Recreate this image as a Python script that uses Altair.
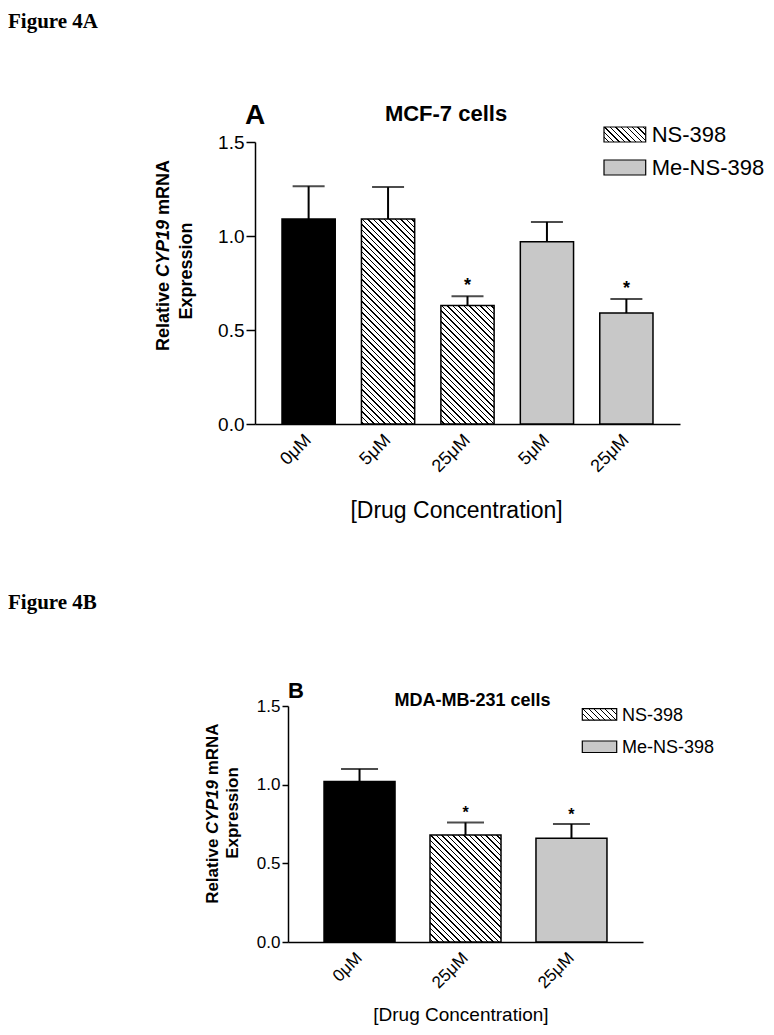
import json
import math
import altair as alt
import pandas as pd

# ---------------- data ----------------
# Panel A (MCF-7 cells)
a_cats = ["c0", "c1", "c2", "c3", "c4"]
a_labels = ["0μM", "5μM", "25μM", "5μM", "25μM"]
a_groups = ["Control", "NS-398", "NS-398", "Me-NS-398", "Me-NS-398"]
a_means = [1.09, 1.09, 0.63, 0.97, 0.59]
a_sems = [0.175, 0.17, 0.05, 0.105, 0.075]
a_sig = [False, False, True, False, True]

# Panel B (MDA-MB-231 cells)
b_cats = ["d0", "d1", "d2"]
b_labels = ["0μM", "25μM", "25μM"]
b_groups = ["Control", "NS-398", "Me-NS-398"]
b_means = [1.02, 0.68, 0.66]
b_sems = [0.08, 0.08, 0.09]
b_sig = [False, True, True]

y_ticks = [0.0, 0.5, 1.0, 1.5]
legend_names = ["NS-398", "Me-NS-398"]

# ---------------- style / layout ----------------
SANS = "Liberation Sans"
SERIF = "Liberation Serif"
GRAY = "#c8c8c8"
Y_MAX = 1.5
PAD_IN, PAD_OUT = 0.33, 0.34


def hatch(w, h, period=5.5, lw=1.4, color="black", bg="white"):
    """Diagonal '\\' hatching as a hard-stop linear gradient for a w x h box."""
    K = max(1.0, (w + h) * w / (w * w + h * h))

    def t(D):
        return min(1.0, max(0.0, (D + h) * w / (K * (w * w + h * h))))

    stops = [alt.GradientStop(offset=0, color=bg)]
    k = math.floor(-h / period) - 1
    while k * period < w:
        a = max(k * period, -h)
        b = min(k * period + lw, w)
        if b > a:
            ta, tb = round(t(a), 5), round(t(b), 5)
            stops += [alt.GradientStop(offset=ta, color=bg),
                      alt.GradientStop(offset=ta, color=color),
                      alt.GradientStop(offset=tb, color=color),
                      alt.GradientStop(offset=tb, color=bg)]
        k += 1
    stops.append(alt.GradientStop(offset=1, color=bg))
    return alt.LinearGradient(gradient="linear", stops=stops,
                              x1=0, y1=1, x2=K, y2=1 - K * h / w)


def txt(text, x, y, size, weight="normal", style="normal", font=SANS,
        align="left", baseline="alphabetic", angle=0):
    return alt.Chart(pd.DataFrame({"t": [text]})).mark_text(
        fontSize=size, fontWeight=weight, fontStyle=style, font=font,
        align=align, baseline=baseline, angle=angle, color="black"
    ).encode(text="t:N", x=alt.value(x), y=alt.value(y))


def swatch(x0, x1, y0, y1, fill):
    return alt.Chart(pd.DataFrame({"k": [0]})).mark_rect(
        fill=fill, stroke="black", strokeWidth=1.2
    ).encode(x=alt.value(x0), x2=alt.value(x1), y=alt.value(y0), y2=alt.value(y1))


def ytitle(yc, x1, x2, f, y2c):
    """Two-line rotated y title with italic CYP19."""
    off = (1.584 + 0.278) * f
    return [
        txt("Relative", x1, yc + off, f, weight="bold", align="right", baseline="middle", angle=270),
        txt("CYP19", x1, yc, f, weight="bold", style="italic", align="center", baseline="middle", angle=270),
        txt("mRNA", x1, yc - off, f, weight="bold", align="left", baseline="middle", angle=270),
        txt("Expression", x2, y2c, f, weight="bold", align="center", baseline="middle", angle=270),
    ]


def panel(cats, labels, groups, means, sems, sig, W, H, p):
    df = pd.DataFrame({"cat": cats, "group": groups, "mean": means, "sem": sems, "sig": sig})
    df["upper"] = df["mean"] + df["sem"]
    label_expr = (json.dumps(labels, ensure_ascii=False)
                  + "[indexof(" + json.dumps(cats) + ", datum.value)]")
    x = alt.X("cat:N", sort=cats,
              scale=alt.Scale(domain=cats, paddingInner=PAD_IN, paddingOuter=PAD_OUT),
              axis=alt.Axis(title="[Drug Concentration]", labelExpr=label_expr,
                            labelAngle=-45, labelAlign="right", labelBaseline="middle",
                            labelPadding=p["xlp"], labelFontSize=p["xlfs"], ticks=False,
                            domainWidth=1.5, titleFontSize=p["xtfs"], titleX=p["xtx"],
                            titleY=p["xty"], titleBaseline="alphabetic", titleAlign="center"))
    yscale = alt.Scale(domain=[0, Y_MAX])
    yaxis = alt.Axis(title=None, values=y_ticks, format=".1f", labelFontSize=p["ylfs"],
                     tickSize=p["yts"], labelPadding=2, domainWidth=1.5, tickWidth=1.5)
    base = alt.Chart(df)
    step = W / (len(cats) - PAD_IN + 2 * PAD_OUT)
    bw = step * (1 - PAD_IN)

    layers = []
    solid = base.transform_filter(alt.datum.group != "NS-398").mark_bar(
        stroke="black", strokeWidth=1.5).encode(
        x=x, y=alt.Y("mean:Q", scale=yscale, axis=yaxis),
        fill=alt.Fill("group:N", scale=alt.Scale(domain=["Control", "Me-NS-398"],
                                                 range=["black", GRAY]), legend=None))
    layers.append(solid)
    for c, g, m in zip(cats, groups, means):
        if g == "NS-398":
            layers.append(base.transform_filter(alt.datum.cat == c).mark_bar(
                fill=hatch(bw, m * H / Y_MAX), stroke="black", strokeWidth=1.5).encode(
                x=x, y=alt.Y("mean:Q", scale=yscale, axis=yaxis)))
    layers.append(base.mark_rule(color="black", strokeWidth=2).encode(
        x=x, y=alt.Y("mean:Q", scale=yscale, axis=yaxis), y2="upper:Q"))
    layers.append(base.mark_tick(color="black", thickness=2, size=p["cap"],
                                 orient="horizontal").encode(
        x=x, y=alt.Y("upper:Q", scale=yscale, axis=yaxis)))
    layers.append(base.transform_filter(alt.datum.sig).mark_text(
        text="*", fontSize=p["astfs"], fontWeight="bold", font=SANS, dy=p["astdy"],
        baseline="alphabetic", color="black").encode(
        x=x, y=alt.Y("upper:Q", scale=yscale, axis=yaxis)))

    # titles, legend, y title
    layers.append(txt(p["letter"], p["lx"], p["ly"], p["lfs"], weight="bold"))
    layers.append(txt(p["title"], p["tx"], p["ty"], p["tfs"], weight="bold", align="center"))
    sx0, sx1, r1y, r2y, sh = p["sx0"], p["sx1"], p["r1y"], p["r2y"], p["sh"]
    layers.append(swatch(sx0, sx1, r1y, r1y + sh, hatch(sx1 - sx0, sh, period=5.5, lw=1.3)))
    layers.append(swatch(sx0, sx1, r2y, r2y + sh, GRAY))
    layers.append(txt(legend_names[0], p["ltx"], r1y + sh + 0.3, p["legfs"]))
    layers.append(txt(legend_names[1], p["ltx"], r2y + sh + 0.3, p["legfs"]))
    layers += ytitle(p["yc"], p["yx1"], p["yx2"], p["ytfs"], p["y2c"])
    layers += p.get("extra", [])
    return alt.layer(*layers).properties(width=W, height=H)


A_W, A_H = 425, 282
B_W, B_H = 355, 236

top = panel(a_cats, a_labels, a_groups, a_means, a_sems, a_sig, A_W, A_H, dict(
    xlp=13, xlfs=18, xtfs=23, xtx=201, xty=93.5, ylfs=19, yts=9, cap=32,
    astfs=18, astdy=-5,
    letter="A", lx=-10, ly=-17.7, lfs=28,
    title="MCF-7 cells", tx=191, ty=-21, tfs=22,
    sx0=349, sx1=390.7, r1y=-15, r2y=18, sh=15, ltx=396.7, legfs=22,
    yc=106.5, yx1=-91, yx2=-68, ytfs=18, y2c=129,
    extra=[txt("Figure 4A", -247, -114, 21, weight="bold", font=SERIF),
           txt("Figure 4B", -247, 466.7, 21, weight="bold", font=SERIF)],
))

bottom = panel(b_cats, b_labels, b_groups, b_means, b_sems, b_sig, B_W, B_H, dict(
    xlp=13, xlfs=17, xtfs=19, xtx=172.4, xty=78.2, ylfs=17, yts=6, cap=37,
    astfs=16, astdy=-4,
    letter="B", lx=0, ly=-8.3, lfs=22,
    title="MDA-MB-231 cells", tx=184.5, ty=0, tfs=18,
    sx0=294.3, sx1=328.7, r1y=2.7, r2y=35, sh=11.5, ltx=334, legfs=18,
    yc=101, yx1=-75.5, yx2=-55.5, ytfs=17, y2c=107,
))

spacer = alt.Chart(pd.DataFrame({"k": [0]})).mark_point(opacity=0).encode(
    x=alt.value(0), y=alt.value(0)).properties(width=33, height=B_H)

chart = alt.vconcat(
    top,
    alt.hconcat(spacer, bottom, spacing=0, bounds="flush"),
    spacing=282, bounds="flush",
).properties(
    padding={"left": 0, "top": 3, "right": 0, "bottom": 0}
).configure_view(stroke=None).configure_axis(
    grid=False, domainColor="black", tickColor="black", labelColor="black",
    titleColor="black", labelFont=SANS, titleFont=SANS, titleFontWeight="normal",
)

chart.save("out.html", embed_options={"renderer": "svg", "actions": False})
